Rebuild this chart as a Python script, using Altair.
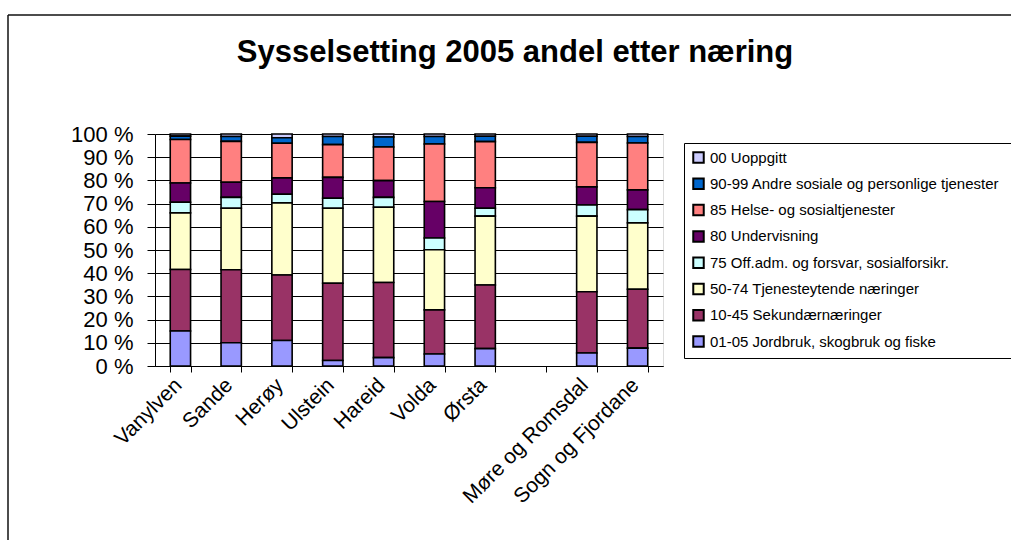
import altair as alt
import pandas as pd

# x slots (one empty slot between Ørsta and the counties)
categories = ["Vanylven", "Sande", "Herøy", "Ulstein", "Hareid", "Volda", "Ørsta", " ",
              "Møre og Romsdal", "Sogn og Fjordane"]
places = ["Vanylven", "Sande", "Herøy", "Ulstein", "Hareid", "Volda", "Ørsta",
          "Møre og Romsdal", "Sogn og Fjordane"]

# legend order (top to bottom)
sectors = [
    "00 Uoppgitt",
    "90-99 Andre sosiale og  personlige tjenester",
    "85 Helse- og sosialtjenester",
    "80 Undervisning",
    "75 Off.adm. og forsvar, sosialforsikr.",
    "50-74 Tjenesteytende næringer",
    "10-45 Sekundærnæringer",
    "01-05 Jordbruk, skogbruk og fiske",
]
colors = ["#CCCCFF", "#0066CC", "#FF8080", "#660066", "#CCFFFF", "#FFFFCC", "#993366", "#9999FF"]

title_text = "Sysselsetting 2005 andel etter næring"

# shares in percent, per place
jordbruk = [15.1, 10.0, 11.0, 2.4, 3.6, 5.2, 7.5, 5.6, 7.7]
sekundaer = [26.5, 31.5, 28.2, 33.3, 32.4, 19.0, 27.4, 26.4, 25.4]
tjeneste = [24.4, 26.5, 31.1, 32.3, 32.4, 25.9, 29.7, 32.6, 28.6]
offadm = [4.6, 4.7, 3.7, 4.3, 4.3, 5.1, 3.4, 4.8, 5.7]
undervisning = [8.3, 6.5, 7.1, 9.0, 7.2, 15.7, 8.8, 7.8, 8.5]
helse = [18.7, 17.6, 14.9, 14.1, 14.5, 24.8, 19.9, 19.2, 20.2]
andre = [1.5, 2.1, 2.4, 3.5, 4.3, 3.2, 2.3, 2.6, 2.8]
uoppgitt = [0.9, 1.1, 1.6, 1.1, 1.3, 1.1, 1.0, 1.0, 1.1]

series = [uoppgitt, andre, helse, undervisning, offadm, tjeneste, sekundaer, jordbruk]

rows = []
for si, (sector, vals) in enumerate(zip(sectors, series)):
    for place, v in zip(places, vals):
        rows.append({"sted": place, "naering": sector, "andel": v,
                     "rekke": len(sectors) - 1 - si})
df = pd.DataFrame(rows)

FONT = "Liberation Sans"

bars = alt.Chart(df).mark_bar(stroke="black", strokeWidth=1.6).encode(
    x=alt.X("sted:N",
            scale=alt.Scale(domain=categories, paddingInner=0.6, paddingOuter=0.3),
            axis=alt.Axis(title=None, labelAngle=315, labelAlign="right",
                          labelBaseline="alphabetic",
                          labelFontSize=21, labelPadding=14, labelOffset=2,
                          labelFont=FONT, labelColor="black",
                          tickBand="extent", tickSize=6, tickColor="black",
                          domainColor="black", grid=False, labelOverlap=False)),
    y=alt.Y("andel:Q", stack="zero",
            scale=alt.Scale(domain=[0, 100], nice=False),
            axis=alt.Axis(title=None, values=list(range(0, 101, 10)),
                          labelExpr="datum.value + ' %'", labelFontSize=22, labelFont=FONT,
                          labelColor="black", labelPadding=14, tickSize=8, tickColor="black",
                          domainColor="black", grid=True, gridColor="black", gridWidth=1)),
    color=alt.Color("naering:N",
                    scale=alt.Scale(domain=sectors, range=colors),
                    legend=alt.Legend(title=None, orient="none", legendX=529, legendY=9,
                                      direction="vertical", strokeColor="black", fillColor="white",
                                      padding=7, symbolType="square", symbolSize=110,
                                      symbolStrokeColor="black", symbolStrokeWidth=2,
                                      symbolOpacity=1, labelFontSize=15, labelFont=FONT,
                                      labelColor="black", labelLimit=500, rowPadding=7.3,
                                      labelOffset=4)),
    order=alt.Order("rekke:Q", sort="ascending"),
)

one_row = alt.Data(values=[{"k": 0}])
title_mark = alt.Chart(one_row).mark_text(
    font=FONT, fontSize=31, fontWeight="bold", color="black",
    align="center", baseline="alphabetic"
).encode(x=alt.value(360), y=alt.value(-72), text=alt.value(title_text))

left_rule = alt.Chart(one_row).mark_rule(color="#111111", strokeWidth=1.5).encode(
    x=alt.value(-147), y=alt.value(-119), y2=alt.value(420))
top_rule = alt.Chart(one_row).mark_rule(color="#111111", strokeWidth=1.5).encode(
    x=alt.value(-147), x2=alt.value(870), y=alt.value(-119))

chart = alt.layer(bars, title_mark, left_rule, top_rule).properties(
    width=508, height=232,
    autosize=alt.AutoSizeParams(type="none"),
    padding={"left": 155, "top": 134, "right": 348, "bottom": 174},
).configure_view(fill="#C0C0C0", stroke="#808080", strokeWidth=1
).configure(background="white")

chart.save("out.html", embed_options={"renderer": "svg", "actions": False})
